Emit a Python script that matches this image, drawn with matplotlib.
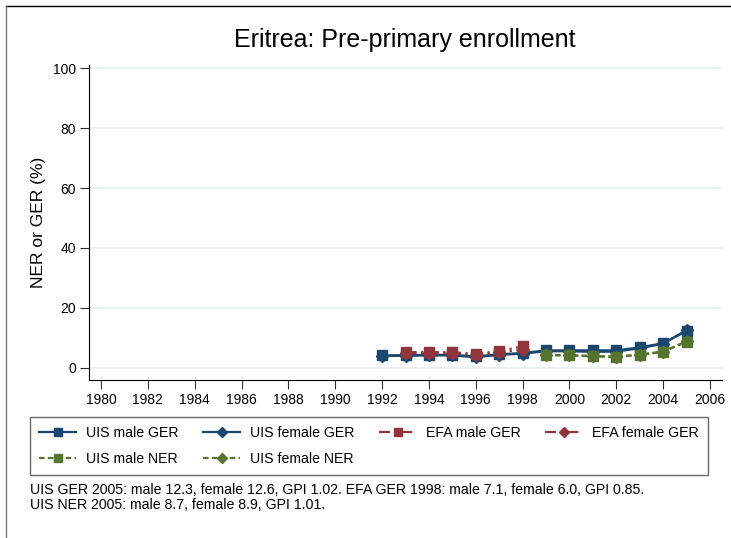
import matplotlib
matplotlib.use("Agg")
import matplotlib.pyplot as plt
from matplotlib.lines import Line2D

plt.rcParams['font.family'] = ['Liberation Sans', 'DejaVu Sans']

years_uis = [1992, 1993, 1994, 1995, 1996, 1997, 1998, 1999, 2000, 2001, 2002, 2003, 2004, 2005]
uis_male_ger = [4.1, 4.2, 4.3, 4.3, 3.8, 4.5, 4.9, 5.8, 5.8, 5.8, 5.8, 6.8, 8.2, 12.3]
uis_female_ger = [3.9, 4.0, 4.1, 4.1, 3.5, 4.3, 4.7, 5.5, 5.5, 5.3, 5.4, 6.5, 8.0, 12.6]

years_efa = [1993, 1994, 1995, 1996, 1997, 1998]
efa_male_ger = [5.2, 5.2, 5.2, 4.6, 5.6, 7.1]
efa_female_ger = [4.8, 4.8, 4.9, 4.2, 5.2, 6.0]

years_ner = [1999, 2000, 2001, 2002, 2003, 2004, 2005]
uis_male_ner = [4.3, 4.2, 3.9, 3.7, 4.4, 5.4, 8.7]
uis_female_ner = [4.2, 4.1, 3.8, 3.6, 4.3, 5.3, 8.9]

x_ticks = list(range(1980, 2007, 2))
y_ticks = [0, 20, 40, 60, 80, 100]

title = "Eritrea: Pre-primary enrollment"
ylabel = "NER or GER (%)"
note = ("UIS GER 2005: male 12.3, female 12.6, GPI 1.02. EFA GER 1998: male 7.1, female 6.0, GPI 0.85.\n"
        "UIS NER 2005: male 8.7, female 8.9, GPI 1.01.")

blue = "#1a476f"
red = "#90353b"
green = "#55752f"

fig = plt.figure(figsize=(7.31, 5.38), dpi=100)
ax = fig.add_axes([89 / 731, 158 / 538, 633 / 731, 315 / 538])

ms = 7
lw = 1.6
efa_dash = (5, 2, 1, 2)
ner_dash = (2.5, 1.5)
ax.plot(years_uis, uis_male_ger, color=blue, marker='s', ms=ms, lw=lw, label="UIS male GER")
ax.plot(years_uis, uis_female_ger, color=blue, marker='D', ms=ms - 0.5, lw=lw, label="UIS female GER")
ax.plot(years_efa, efa_male_ger, color=red, marker='s', ms=ms, lw=lw, dashes=efa_dash, label="EFA male GER")
ax.plot(years_efa, efa_female_ger, color=red, marker='D', ms=ms - 0.5, lw=lw, dashes=efa_dash, label="EFA female GER")
ax.plot(years_ner, uis_male_ner, color=green, marker='s', ms=ms, lw=lw, dashes=ner_dash, label="UIS male NER")
ax.plot(years_ner, uis_female_ner, color=green, marker='D', ms=ms - 0.5, lw=lw, dashes=ner_dash, label="UIS female NER")

ax.set_xlim(1979.49, 2006.51)
ax.set_ylim(-4.1, 101.1)
ax.set_xticks(x_ticks)
ax.set_yticks(y_ticks)
ax.tick_params(labelsize=10, color="#333333", length=6.5, pad=3)
ax.grid(axis='y', color="#e6edf0", lw=1.2)
ax.set_axisbelow(True)
for s in ['top', 'right']:
    ax.spines[s].set_visible(False)
ax.set_ylabel(ylabel, fontsize=12.5, labelpad=5)
fig.text(405 / 731, 1 - 40 / 538, title, ha='center', va='center', fontsize=18)

h, l = ax.get_legend_handles_labels()
order = [0, 4, 1, 5, 2, 3]
fig.legend([h[i] for i in order], [l[i] for i in order], ncol=4, loc='upper left',
           bbox_to_anchor=(30 / 731, 1 - 417 / 538), fontsize=10.2, frameon=True,
           fancybox=False, edgecolor='#444444', handlelength=2.6, handletextpad=0.7,
           columnspacing=1.75, labelspacing=0.8, borderpad=0.65, borderaxespad=0,
           markerscale=0.85)

fig.text(30 / 731, 1 - 483 / 538, note, ha='left', va='top', fontsize=10.2, linespacing=1.1)

fig.add_artist(Line2D([6 / 731, 1.0], [1 - 6 / 538, 1 - 6 / 538], color='black', lw=1))
fig.add_artist(Line2D([6 / 731, 6 / 731], [0.0, 1 - 6 / 538], color='#777777', lw=1))

fig.savefig("out.png", dpi=100)
